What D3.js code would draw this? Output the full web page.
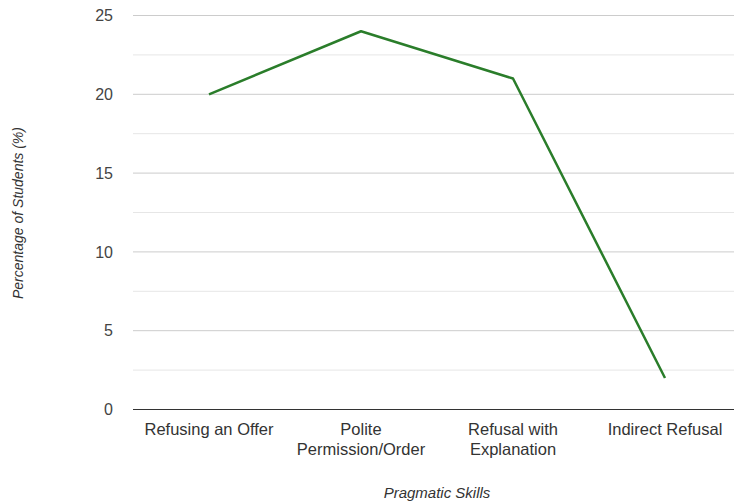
<!DOCTYPE html>
<html>
<head>
<meta charset="utf-8">
<script src="https://cdn.jsdelivr.net/npm/d3@7"></script>
<style>
  html, body { margin: 0; padding: 0; background: #fff; }
  svg { display: block; font-family: "Liberation Sans", Arial, sans-serif; }
</style>
</head>
<body>
<svg id="chart" width="734" height="504"></svg>
<script>
// Pragmatic skills and share of students (%)
const categories = [
  ["Refusing an Offer"],
  ["Polite", "Permission/Order"],
  ["Refusal with", "Explanation"],
  ["Indirect Refusal"]
];
const values = [20, 24, 21, 2];
const yTicks = [0, 5, 10, 15, 20, 25];
const yGrid = [0, 2.5, 5, 7.5, 10, 12.5, 15, 17.5, 20, 22.5, 25];
const xTitle = "Pragmatic Skills";
const yTitle = "Percentage of Students (%)";

(function () {
  const svg = d3.select("#chart");
  const plotLeft = 133, plotRight = 741, plotTop = 15.5, plotBottom = 409.5;

  const x = d3.scaleBand()
    .domain(d3.range(categories.length))
    .range([plotLeft, plotRight]);
  const y = d3.scaleLinear().domain([0, 25]).range([plotBottom, plotTop]);

  // horizontal gridlines
  svg.append("g").selectAll("line").data(yGrid.filter(d => d > 0)).join("line")
    .attr("x1", plotLeft).attr("x2", plotRight)
    .attr("y1", d => y(d)).attr("y2", d => y(d))
    .attr("stroke", d => d % 5 === 0 ? "#cccccc" : "#e6e6e6")
    .attr("stroke-width", 1);

  // y tick labels
  svg.append("g").selectAll("text").data(yTicks).join("text")
    .attr("x", 113).attr("y", d => y(d)).attr("dy", "0.36em")
    .attr("text-anchor", "end")
    .attr("font-size", 16).attr("fill", "#444")
    .text(d => d);

  // baseline
  svg.append("line")
    .attr("x1", plotLeft).attr("x2", plotRight)
    .attr("y1", y(0)).attr("y2", y(0))
    .attr("stroke", "#333").attr("stroke-width", 1.2);

  // category labels
  const xl = svg.append("g").selectAll("text").data(categories).join("text")
    .attr("text-anchor", "middle")
    .attr("font-size", 16.5).attr("fill", "#333");
  xl.each(function (lines, i) {
    d3.select(this).selectAll("tspan").data(lines).join("tspan")
      .attr("x", x(i) + x.bandwidth() / 2)
      .attr("y", (d, j) => 435 + j * 20)
      .text(d => d);
  });

  // line series
  const line = d3.line()
    .x((d, i) => x(i) + x.bandwidth() / 2)
    .y(d => y(d));
  svg.append("path").datum(values)
    .attr("d", line)
    .attr("fill", "none")
    .attr("stroke", "#2a7d2a")
    .attr("stroke-width", 2.5)
    .attr("stroke-linejoin", "round");

  // axis titles
  svg.append("text")
    .attr("x", 437).attr("y", 498)
    .attr("text-anchor", "middle")
    .attr("font-size", 15).attr("font-style", "italic").attr("fill", "#333")
    .text(xTitle);
  svg.append("text")
    .attr("transform", "translate(23,213) rotate(-90)")
    .attr("text-anchor", "middle")
    .attr("font-size", 14).attr("font-style", "italic").attr("fill", "#333")
    .text(yTitle);
})();
</script>
</body>
</html>
